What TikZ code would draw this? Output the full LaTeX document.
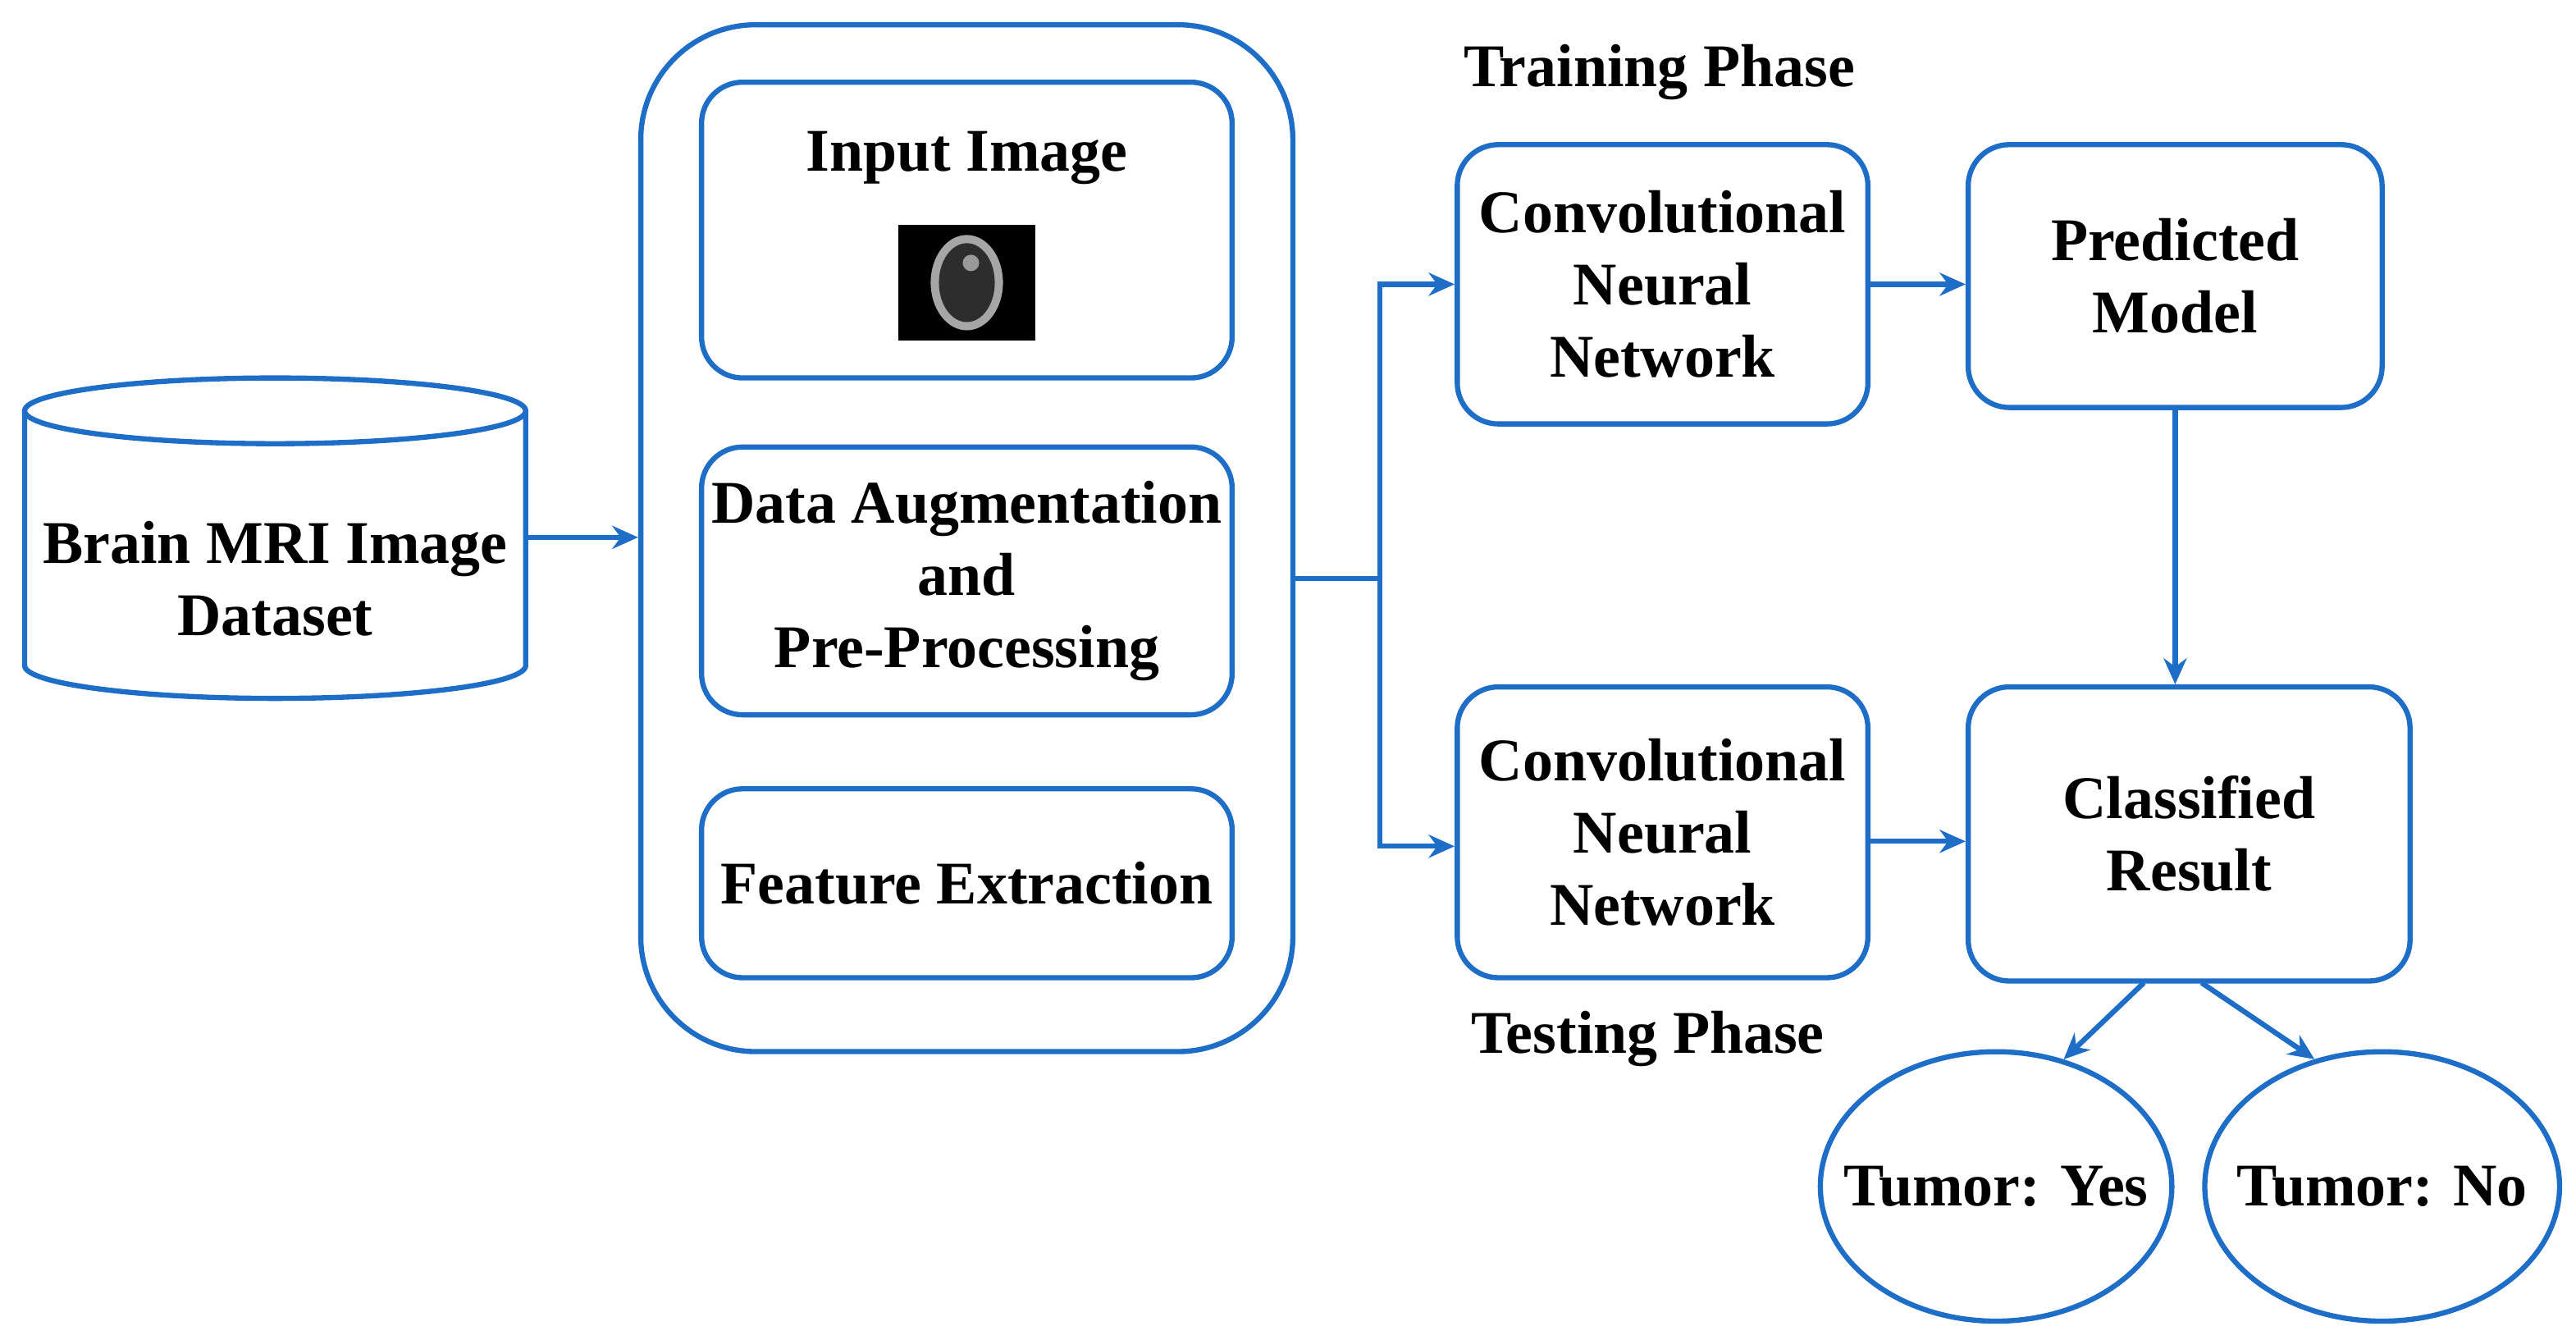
\documentclass[tikz,border=0pt]{standalone}
\usepackage{fontspec}
\setmainfont{Liberation Serif}
\usetikzlibrary{arrows.meta,shapes.geometric}
\definecolor{bl}{RGB}{30,110,200}
\begin{document}
\begin{tikzpicture}[x=0.02cm,y=-0.02cm,
 box/.style={draw=bl,line width=1.8pt,rounded corners=0.5cm,align=center,font=\fontsize{21}{25}\selectfont\bfseries,inner sep=0pt},
 arr/.style={draw=bl,line width=1.8pt,-{Stealth[length=9pt,width=8pt]}},
 lab/.style={font=\fontsize{21}{25}\selectfont\bfseries}]
\useasboundingbox (0,0) rectangle (1568,815);
% cylinder
\draw[bl,line width=1.8pt] (15,250) -- (15,405) arc[start angle=180,end angle=0,x radius=152.5,y radius=20] -- (320,250);
\draw[bl,line width=1.8pt] (167.5,250) ellipse[x radius=152.5,y radius=20];
\node[lab,align=center,minimum width=6.1cm,minimum height=3.4cm] (db) at (167.5,352) {Brain MRI Image\\Dataset};
% big container
\node[box,rounded corners=1.4cm,minimum width=7.94cm,minimum height=12.5cm] (big) at (588.5,327.5) {};
\node[box,minimum width=6.46cm,minimum height=3.6cm] (inp) at (588.5,140) {};
\node[lab] (inpt) at (588.5,96) {Input Image};
\node[fill=black,minimum width=1.66cm,minimum height=1.4cm,inner sep=0pt] (mri) at (588.5,172) {};
\fill[gray!70] (588.5,172) ellipse[x radius=22,y radius=29];
\fill[gray!35!black] (588.5,172) ellipse[x radius=17,y radius=24];
\fill[gray!80] (591,160) circle[radius=5];
\node[box,minimum width=6.46cm,minimum height=3.26cm] (aug) at (588.5,353.5) {Data Augmentation\\and\\Pre-Processing};
\node[box,minimum width=6.46cm,minimum height=2.3cm] (fe) at (588.5,537.5) {Feature Extraction};
\node[box,minimum width=5cm,minimum height=3.4cm] (cnn1) at (1012,173) {Convolutional\\Neural\\Network};
\node[box,minimum width=5.04cm,minimum height=3.2cm] (pm) at (1324,168) {Predicted\\Model};
\node[box,minimum width=5cm,minimum height=3.54cm] (cnn2) at (1012,506.5) {Convolutional\\Neural\\Network};
\node[box,minimum width=5.38cm,minimum height=3.58cm] (cr) at (1332.5,507.5) {Classified\\Result};
\node[draw=bl,line width=1.8pt,ellipse,minimum width=4.28cm,minimum height=3.28cm,inner sep=0pt] (ty) at (1215,722) {};
\node[lab] (tyt) at (ty.center) {Tumor: Yes};
\node[draw=bl,line width=1.8pt,ellipse,minimum width=4.32cm,minimum height=3.28cm,inner sep=0pt] (tn) at (1450,722) {};
\node[lab] (tnt) at (tn.center) {Tumor: No};
\node[lab] (tr) at (1010,44) {Training Phase};
\node[lab] (te) at (1003,632) {Testing Phase};
\coordinate (j) at (840,352);
\draw[arr] (db.east |- 0,327) -- (big.west |- 0,327);
\draw[draw=bl,line width=1.8pt] (big.east |- j) -- (j);
\draw[arr] (j) |- (cnn1.west);
\draw[arr] (j) |- (cnn2.west |- 0,515);
\draw[arr] (cnn1.east) -- (pm.west |- cnn1.east);
\draw[arr] (pm.south) -- (pm.south |- cr.north);
\draw[arr] (cnn2.east |- 0,512) -- (cr.west |- 0,512);
\draw[arr] (1305,598) -- (ty.62);
\draw[arr] (1340,598) -- (tn.118);
\end{tikzpicture}
\end{document}
